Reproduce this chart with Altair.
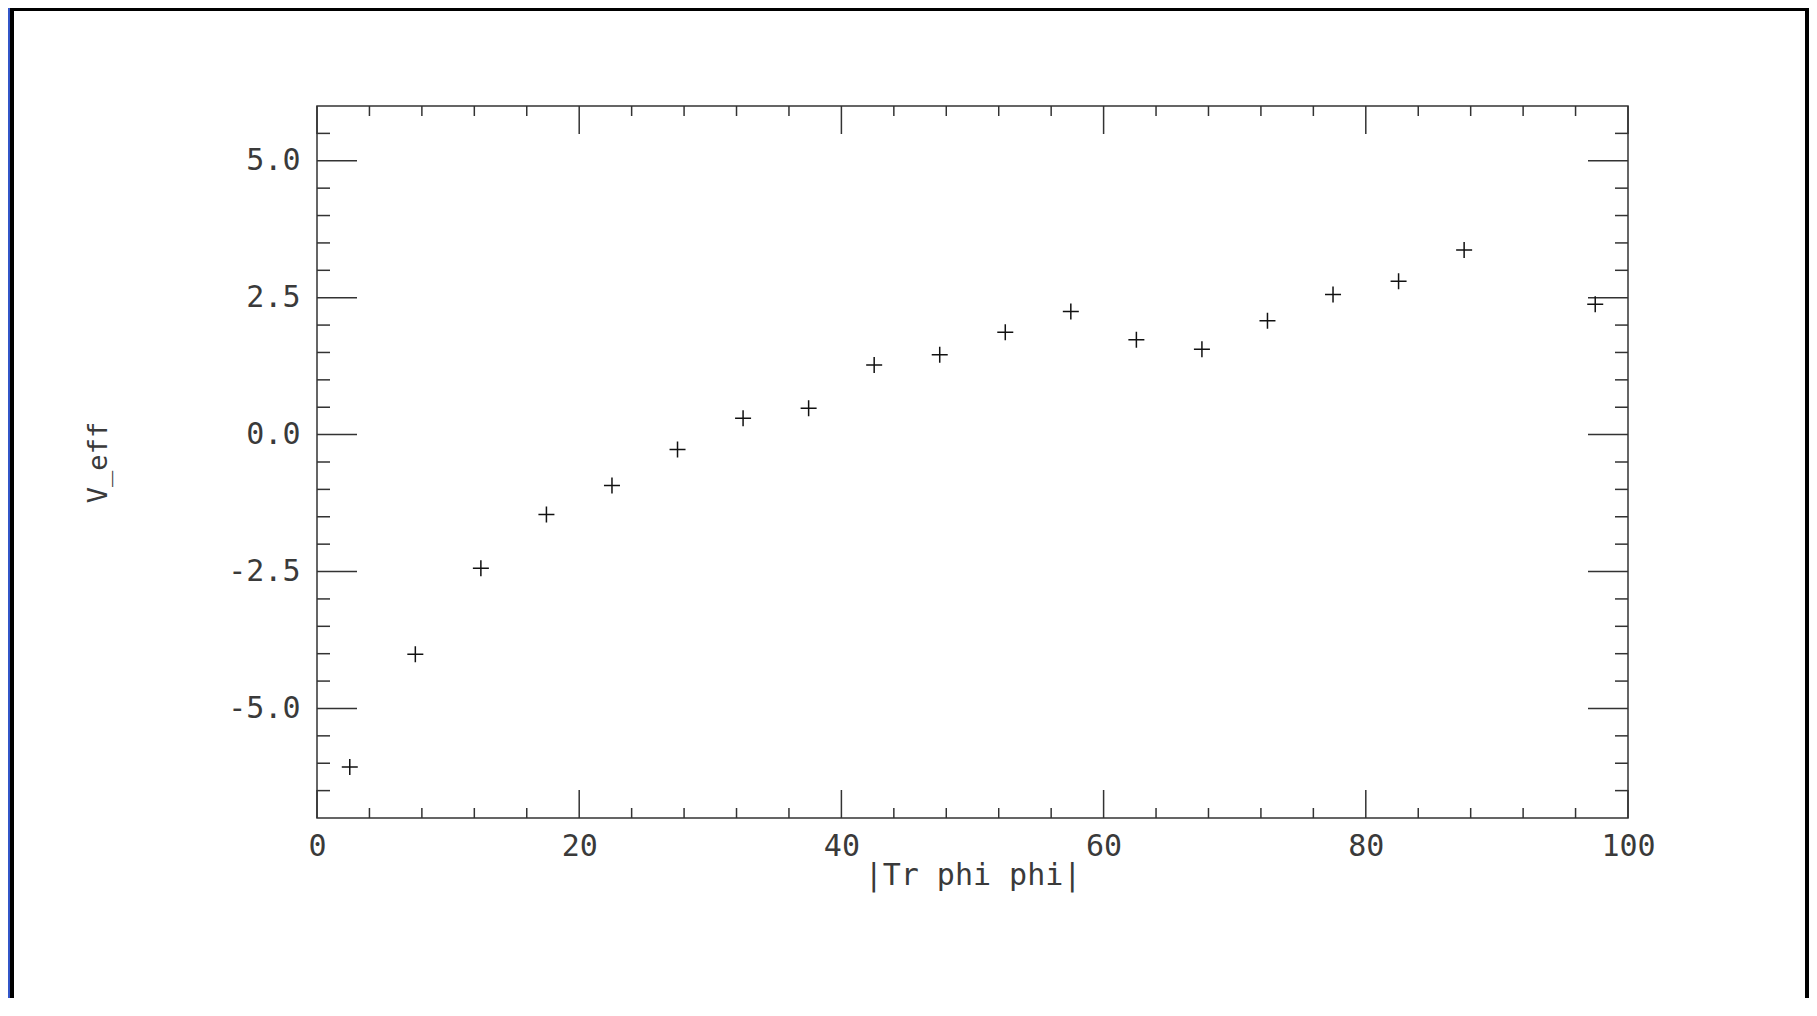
import altair as alt
import pandas as pd

# data
x_vals = [2.5, 7.5, 12.5, 17.5, 22.5, 27.5, 32.5, 37.5, 42.5, 47.5,
          52.5, 57.5, 62.5, 67.5, 72.5, 77.5, 82.5, 87.5, 97.5]
y_vals = [-6.07, -4.01, -2.44, -1.46, -0.93, -0.27, 0.30, 0.48, 1.27, 1.46,
          1.87, 2.25, 1.73, 1.56, 2.08, 2.56, 2.80, 3.37, 2.38]

x_labels = [0, 20, 40, 60, 80, 100]
y_labels = [-5.0, -2.5, 0.0, 2.5, 5.0]
x_minor = [4, 8, 12, 16, 24, 28, 32, 36, 44, 48, 52, 56, 64, 68, 72, 76, 84, 88, 92, 96]
y_minor = [-6.5, -6.0, -5.5, -4.5, -4.0, -3.5, -3.0, -2.0, -1.5, -1.0, -0.5,
           0.5, 1.0, 1.5, 2.0, 3.0, 3.5, 4.0, 4.5, 5.5]

x_title = "|Tr phi phi|"
y_title = "V_eff"

W, H = 1311, 712
PL, PT = 309, 98

df = pd.DataFrame({"x": x_vals, "y": y_vals})
one = pd.DataFrame({"d": [0]})

xs = alt.Scale(domain=[0, 100], nice=False, zero=False)
ys = alt.Scale(domain=[-7, 6], nice=False, zero=False)

FONT = "DejaVu Sans Mono"
TXT = "#3a3a3a"
LINE = "#333333"

xaxis = alt.Axis(values=x_labels, format="d", grid=False, domain=False, ticks=True, tickSize=0,
                 labelPadding=13, labelFont=FONT, labelFontSize=30, labelColor=TXT,
                 labelFontWeight="normal", labelFlush=False, labelOverlap=False,
                 title=x_title, titleFont=FONT, titleFontSize=30, titleColor=TXT,
                 titleFontWeight="normal", titleX=W / 2, titleY=66,
                 titleAlign="center", titleBaseline="alphabetic")
yaxis = alt.Axis(values=y_labels, grid=False, domain=False, ticks=True, tickSize=0,
                 labelExpr="datum.value < 0 ? '-' + format(-datum.value, '.1f') : format(datum.value, '.1f')",
                 labelPadding=17, labelFont=FONT, labelFontSize=30, labelColor=TXT,
                 labelFontWeight="normal", labelFlush=False, labelOverlap=False,
                 title=y_title, titleFont=FONT, titleFontSize=27, titleColor=TXT,
                 titleFontWeight="normal", titleAngle=270, titleX=-219, titleY=H / 2,
                 titleAlign="center", titleBaseline="middle")

points = alt.Chart(df).mark_point(
    shape="M-1,0L1,0M0,-1L0,1", filled=False, size=256, stroke="#111111",
    strokeWidth=1.5, opacity=1
).encode(
    x=alt.X("x:Q", scale=xs, axis=xaxis),
    y=alt.Y("y:Q", scale=ys, axis=yaxis),
)

xmaj = pd.DataFrame({"v": x_labels})
xmin = pd.DataFrame({"v": x_minor})
ymaj = pd.DataFrame({"v": y_labels})
ymin = pd.DataFrame({"v": y_minor})


def xticks(data, y0, y1):
    return alt.Chart(data).mark_rule(color=LINE, strokeWidth=1.5).encode(
        x=alt.X("v:Q", scale=xs, axis=xaxis), y=alt.value(y0), y2=alt.value(y1))


def yticks(data, x0, x1):
    return alt.Chart(data).mark_rule(color=LINE, strokeWidth=1.5).encode(
        y=alt.Y("v:Q", scale=ys, axis=yaxis), x=alt.value(x0), x2=alt.value(x1))


ticks = [
    xticks(xmaj, H, H - 28), xticks(xmin, H, H - 10),
    xticks(xmaj, 0, 28), xticks(xmin, 0, 10),
    yticks(ymaj, 0, 40), yticks(ymin, 0, 13),
    yticks(ymaj, W, W - 40), yticks(ymin, W, W - 13),
]


def strip(x0, x1, y0, y1, color):
    return alt.Chart(one).mark_rect(color=color).encode(
        x=alt.value(x0), x2=alt.value(x1), y=alt.value(y0), y2=alt.value(y1))


BLUE = "#3356c8"
frame = [
    strip(-PL, -PL + 2, -PT, 1000, BLUE),
    strip(-PL + 2, -PL + 6, -PT, 1000, "#000000"),
    strip(-PL + 2, 1492, -PT, -PT + 3, "#000000"),
    strip(1488, 1492, -PT, 1000, "#000000"),
]

chart = alt.layer(*frame, *ticks, points).properties(
    width=W, height=H,
    autosize=alt.AutoSizeParams(type="none"),
    padding={"left": PL, "top": PT, "right": 1801 - PL - W, "bottom": 990 - PT - H},
    background="white",
).configure_view(stroke=LINE, strokeWidth=1.5, fill="white")

chart.save("out.html", embed_options={"renderer": "svg", "actions": False})
